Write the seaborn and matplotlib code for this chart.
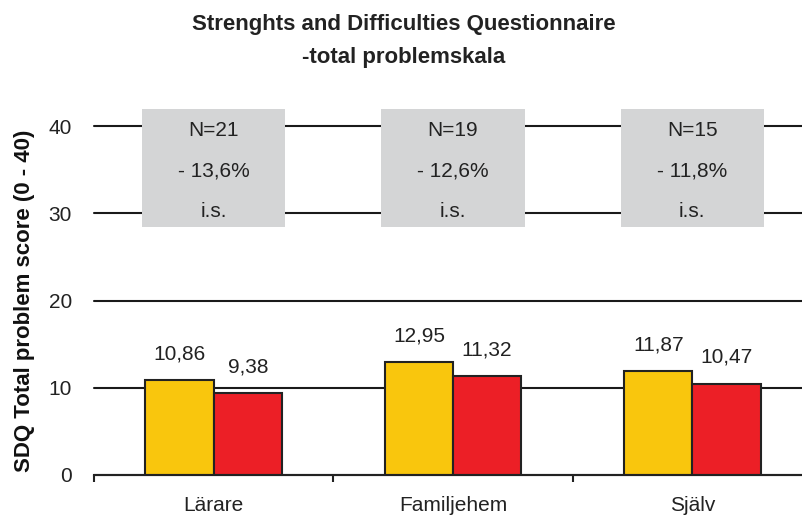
import matplotlib
matplotlib.use("Agg")
import matplotlib.pyplot as plt
from matplotlib.patches import Rectangle
import seaborn as sns
import pandas as pd

categories = ["Lärare", "Familjehem", "Själv"]
series_names = ["Före", "Efter"]
before_values = [10.86, 12.95, 11.87]
after_values = [9.38, 11.32, 10.47]
box_n = ["N=21", "N=19", "N=15"]
box_change = ["- 13,6%", "- 12,6%", "- 11,8%"]
box_sig = ["i.s.", "i.s.", "i.s."]
y_ticks = [0, 10, 20, 30, 40]

title = "Strenghts and Difficulties Questionnaire\n-total problemskala"
y_label = "SDQ Total problem score (0 - 40)"

df = pd.DataFrame({
    "category": categories * 2,
    "series": [series_names[0]] * 3 + [series_names[1]] * 3,
    "value": before_values + after_values,
})

sns.set_theme(style="white")
plt.rcParams["font.family"] = ["Liberation Sans", "DejaVu Sans"]

FS = 15
W, H = 803, 515
fig = plt.figure(figsize=(W / 100, H / 100), dpi=100)
left, right, top, bottom = 94, 812, 126, 475
ax = fig.add_axes([left / W, 1 - bottom / H, (right - left) / W, (bottom - top) / H])

sns.barplot(data=df, x="category", y="value", hue="series", order=categories,
            hue_order=series_names, palette=["#F9C60D", "#EC1F26"], saturation=1,
            width=0.57, edgecolor="#222222", linewidth=1.5, legend=False, ax=ax, zorder=2)

ax.set_xlim(-0.5, 2.5)
ax.set_ylim(0, 40)
ax.set_yticks(y_ticks)
ax.set_yticklabels([str(t) for t in y_ticks], fontsize=FS, color="#222222")
ax.tick_params(axis="y", length=0, pad=16)
ax.set_xticks(range(len(categories)))
ax.set_xticklabels(categories, fontsize=FS, color="#222222")
ax.tick_params(axis="x", which="major", length=0, pad=15)
ax.set_xticks([-0.5, 0.5, 1.5], minor=True)
ax.tick_params(axis="x", which="minor", length=5, width=1.5, color="#222222", direction="out")
ax.xaxis.set_tick_params(which="minor", bottom=True)

ax.set_axisbelow(True)
ax.yaxis.grid(True, color="#1a1a1a", linewidth=1.5)
for gl in ax.get_ygridlines():
    gl.set_clip_on(False)
ax.xaxis.grid(False)
for s in ["top", "right", "left"]:
    ax.spines[s].set_visible(False)
ax.spines["bottom"].set_color("#222222")
ax.spines["bottom"].set_linewidth(1.5)
ax.set_xlabel("")
ax.set_ylabel(y_label, fontsize=16, fontweight="bold", color="#111111", labelpad=10)

# value labels
for container in ax.containers:
    for bar in container:
        h = bar.get_height()
        ax.annotate(f"{h:.2f}".replace(".", ","),
                    (bar.get_x() + bar.get_width() / 2, h),
                    xytext=(0, 19), textcoords="offset points",
                    ha="center", va="center", fontsize=FS, color="#222222")

# grey info boxes
for i in range(len(categories)):
    ax.add_patch(Rectangle((i - 0.3, 28.4), 0.6, 13.6, facecolor="#D4D5D6",
                           edgecolor="none", zorder=3, clip_on=False))
    ax.text(i, 39.5, box_n[i], ha="center", va="center", fontsize=FS, color="#222222", zorder=4)
    ax.text(i, 34.8, box_change[i], ha="center", va="center", fontsize=FS, color="#222222", zorder=4)
    ax.text(i, 30.2, box_sig[i], ha="center", va="center", fontsize=FS, color="#222222", zorder=4)

fig.text(404 / W, 1 - 41 / H, title, ha="center", va="center", fontsize=16,
         fontweight="bold", color="#222222", linespacing=1.7)

fig.savefig("out.png", dpi=100)
